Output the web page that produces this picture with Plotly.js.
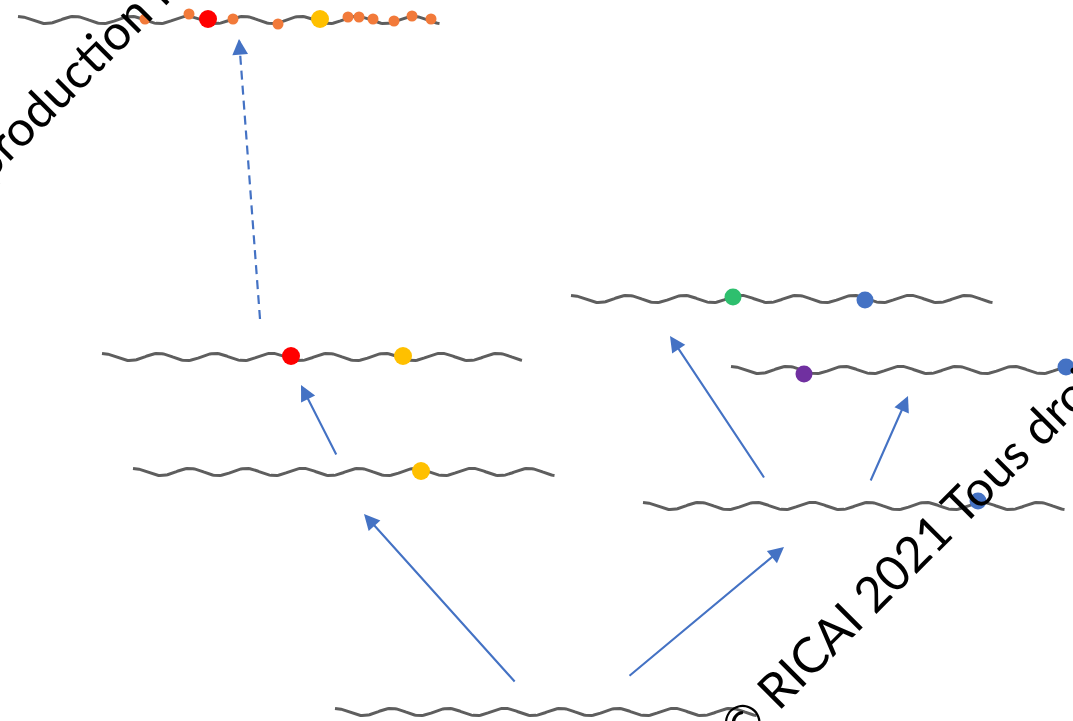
<!DOCTYPE html>
<html>
<head>
<meta charset="utf-8">
<script src="https://cdn.plot.ly/plotly-3.0.1.min.js"></script>
<style>
  html, body { margin: 0; padding: 0; background: #ffffff; }
  #chart { width: 1073px; height: 721px; }
</style>
</head>
<body>
<div id="chart"></div>
<script>
// ---- Data ----
// DNA strands: start x, end x, centre y
const strandStart = [18, 102, 133, 335, 643, 571, 731];
const strandEnd   = [440, 523, 555, 757, 1065, 993, 1153];
const strandY     = [20, 357, 472, 712, 506, 299, 370];

// Mutations on strands
const mutX    = [145, 189, 233, 278, 348, 359, 373, 394, 412, 431, 208, 320, 291, 403, 421, 733, 865, 804, 1066, 978];
const mutY    = [19, 14, 19, 24, 17, 17, 19, 21, 16, 19, 19, 19, 356, 356, 471, 297, 300, 374, 367, 501];
const mutKind = ['orange','orange','orange','orange','orange','orange','orange','orange','orange','orange',
                 'rouge','jaune','rouge','jaune','jaune','vert','bleu','violet','bleu','bleu'];

// Evolution arrows: tail (x0,y0) -> head (x1,y1)
const arrowX0 = [516, 628, 337, 260, 765, 870];
const arrowY0 = [683, 677, 456, 319, 479, 482];
const arrowX1 = [364, 784, 301, 239, 670, 908];
const arrowY1 = [514, 547, 385, 39, 336, 396];
const arrowDashed = [false, false, false, true, false, false];

// Watermark texts (diagonal, -45°)
const watermarkTexts  = ['© RICAI 2021 Tous droits réservés', 'Reproduction interdite'];
const watermarkPrefix = ['© ', 'Reproduction'];   // text before the reference point
const watermarkRefS   = [46, 98];                 // reference point position along the line
const watermarkBase   = [1490, 172];              // x+y of the baseline

// ---- Styles ----
const W = 1073, H = 721;
const WAVELEN = 56.5, AMP = 3.6;
const kindStyle = {
  orange: {color: '#F27A3A', size: 11},
  rouge:  {color: '#FF0000', size: 18},
  jaune:  {color: '#FFC000', size: 18},
  vert:   {color: '#2EBF6E', size: 17},
  bleu:   {color: '#4472C4', size: 17},
  violet: {color: '#7030A0', size: 17}
};
const ARROW_COLOR = '#4472C4';
const FONT = 'Lato';

// text measuring
const ctx = document.createElement('canvas').getContext('2d');
function measure(t, size) { ctx.font = size + 'px ' + FONT; return ctx.measureText(t).width !== undefined ? ctx.measureText(t) : {width: 0}; }
// font size so that "RICAI 2021 " spans like the reference
const FS = Math.round(10 * 272 / ((measure('RICAI 2021 ', 100).width + 20) / 100)) / 10;

const traces = [];

// strands
for (let i = 0; i < strandStart.length; i++) {
  const xs = [], ys = [];
  for (let x = strandStart[i]; x <= strandEnd[i]; x += 1.5) {
    xs.push(x);
    ys.push(strandY[i] - AMP * Math.cos(2 * Math.PI * (x - strandStart[i]) / WAVELEN));
  }
  traces.push({
    type: 'scatter', mode: 'lines', x: xs, y: ys,
    line: {color: '#5E5E5E', width: 3},
    hoverinfo: 'skip', showlegend: false
  });
}

// dashed arrow shafts
for (let i = 0; i < arrowX0.length; i++) {
  if (!arrowDashed[i]) continue;
  traces.push({
    type: 'scatter', mode: 'lines',
    x: [arrowX0[i], arrowX1[i]], y: [arrowY0[i], arrowY1[i]],
    line: {color: ARROW_COLOR, width: 2.2, dash: '9px,6px'},
    hoverinfo: 'skip', showlegend: false
  });
}

// mutations
traces.push({
  type: 'scatter', mode: 'markers', x: mutX, y: mutY,
  marker: {
    color: mutKind.map(k => kindStyle[k].color),
    size: mutKind.map(k => kindStyle[k].size),
    opacity: 1,
    line: {width: 0}
  },
  hoverinfo: 'skip', showlegend: false
});

const annotations = [];
// arrows
for (let i = 0; i < arrowX0.length; i++) {
  const len = Math.hypot(arrowX1[i] - arrowX0[i], arrowY1[i] - arrowY0[i]);
  annotations.push({
    x: arrowX1[i], y: arrowY1[i], xref: 'x', yref: 'y',
    ax: arrowX0[i], ay: arrowY0[i], axref: 'x', ayref: 'y',
    text: '', font: {size: 1},
    showarrow: true, arrowhead: 2, arrowsize: 1.5, arrowwidth: 2.1,
    arrowcolor: ARROW_COLOR,
    startstandoff: arrowDashed[i] ? len - 10 : 0
  });
}
// watermarks
const SQ2 = Math.SQRT2;
for (let i = 0; i < watermarkTexts.length; i++) {
  const mFull = measure(watermarkTexts[i], FS);
  const asc = mFull.fontBoundingBoxAscent || FS * 0.987;
  const desc = mFull.fontBoundingBoxDescent || FS * 0.213;
  const s0 = watermarkRefS[i] - measure(watermarkPrefix[i], FS).width;
  const sc = s0 + mFull.width / 2;
  const sumC = watermarkBase[i] - ((asc - desc) / 2) * SQ2;
  const difC = sc * SQ2;
  const cx = (sumC + difC) / 2, cy = (sumC - difC) / 2;
  annotations.push({
    text: watermarkTexts[i], xref: 'paper', yref: 'paper',
    x: cx / W, y: 1 - cy / H,
    xanchor: 'center', yanchor: 'middle',
    showarrow: false, textangle: -45,
    font: {family: FONT + ', "Open Sans", sans-serif', size: FS, color: '#000000'}
  });
}

const layout = {
  width: W, height: H,
  margin: {l: 0, r: 0, t: 0, b: 0, pad: 0},
  paper_bgcolor: '#ffffff', plot_bgcolor: '#ffffff',
  xaxis: {range: [0, W], visible: false, fixedrange: true},
  yaxis: {range: [H, 0], visible: false, fixedrange: true},
  showlegend: false,
  annotations: annotations
};

Plotly.newPlot('chart', traces, layout, {staticPlot: true, displayModeBar: false});
</script>
</body>
</html>
